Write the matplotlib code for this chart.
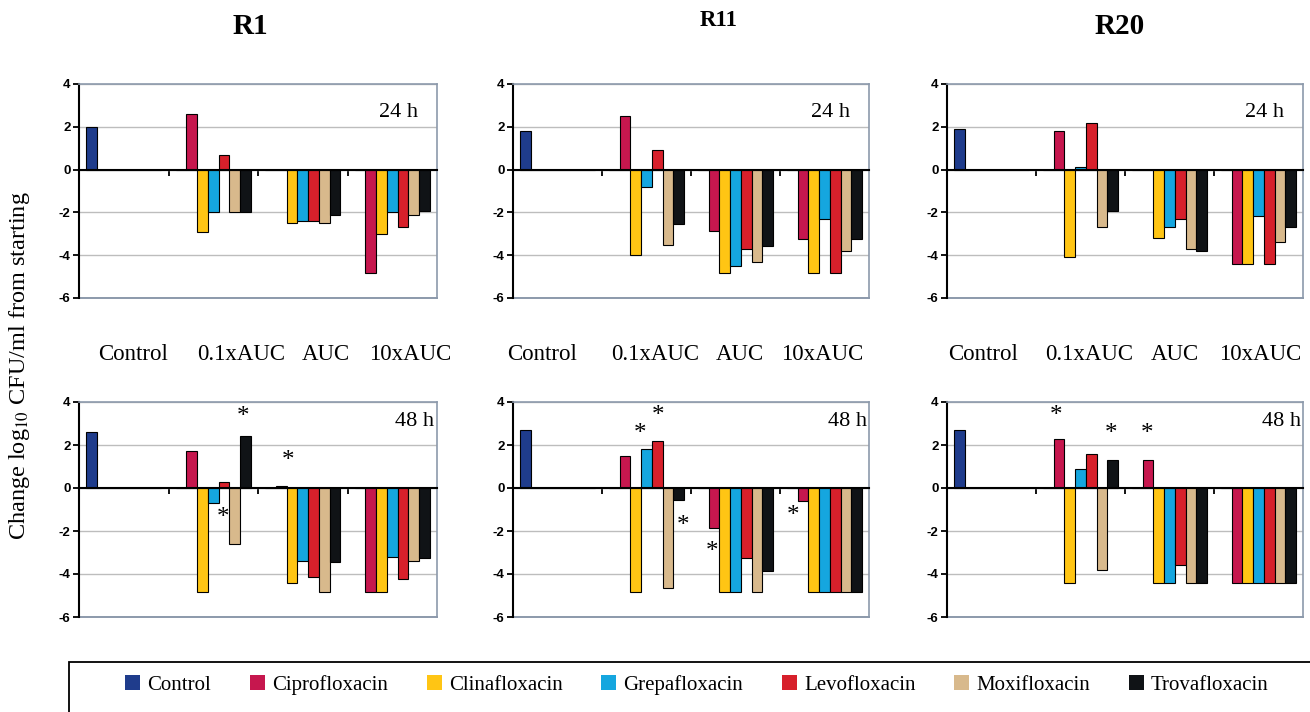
import numpy as np
import matplotlib
matplotlib.use("Agg")
import matplotlib.pyplot as plt
from matplotlib.patches import Patch, Rectangle

plt.rcParams["axes.unicode_minus"] = False

categories = ["Control", "0.1xAUC", "AUC", "10xAUC"]
series = ["Control", "Ciprofloxacin", "Clinafloxacin", "Grepafloxacin",
          "Levofloxacin", "Moxifloxacin", "Trovafloxacin"]
colors = ["#1F3C8C", "#C6174E", "#FFC514", "#15A6DF", "#D7202B", "#D8B98C", "#101316"]

strains = ["R1", "R11", "R20"]
times = ["24 h", "48 h"]

# control value, then drug rows (Cipro..Trova) x (0.1xAUC, AUC, 10xAUC)
r1_24h_control = 2.0
r1_24h = [[2.6, 0.0, -4.85], [-2.9, -2.5, -3.0], [-2.0, -2.4, -2.0],
          [0.7, -2.4, -2.7], [-2.0, -2.5, -2.1], [-2.0, -2.1, -1.95]]
r1_48h_control = 2.6
r1_48h = [[1.7, 0.1, -4.85], [-4.85, -4.4, -4.85], [-0.7, -3.4, -3.2],
          [0.3, -4.15, -4.25], [-2.6, -4.85, -3.4], [2.4, -3.45, -3.25]]
r11_24h_control = 1.8
r11_24h = [[2.5, -2.85, -3.25], [-4.0, -4.85, -4.85], [-0.8, -4.5, -2.3],
           [0.9, -3.7, -4.85], [-3.5, -4.3, -3.8], [-2.55, -3.55, -3.25]]
r11_48h_control = 2.7
r11_48h = [[1.5, -1.85, -0.6], [-4.85, -4.85, -4.85], [1.8, -4.85, -4.85],
           [2.2, -3.25, -4.85], [-4.65, -4.85, -4.85], [-0.55, -3.85, -4.85]]
r20_24h_control = 1.9
r20_24h = [[1.8, 0.0, -4.4], [-4.1, -3.2, -4.4], [0.12, -2.7, -2.15],
           [2.2, -2.3, -4.4], [-2.7, -3.7, -3.4], [-1.95, -3.8, -2.7]]
r20_48h_control = 2.7
r20_48h = [[2.3, 1.3, -4.4], [-4.4, -4.4, -4.4], [0.9, -4.4, -4.4],
           [1.6, -3.6, -4.4], [-3.8, -4.4, -4.4], [1.3, -4.4, -4.4]]

# significance marks (x in category units, y in log10 CFU/ml)
r1_48h_stars_x = [1.33, 1.11, 1.84]
r1_48h_stars_y = [3.3, -1.4, 1.25]
r11_48h_stars_x = [0.93, 1.13, 1.41, 1.74, 2.65]
r11_48h_stars_y = [2.53, 3.36, -1.75, -3.0, -1.3]
r20_48h_stars_x = [0.72, 1.34, 1.75]
r20_48h_stars_y = [3.36, 2.53, 2.53]

panels = {
    (0, 0): (r1_24h_control, r1_24h, [], []),
    (1, 0): (r1_48h_control, r1_48h, r1_48h_stars_x, r1_48h_stars_y),
    (0, 1): (r11_24h_control, r11_24h, [], []),
    (1, 1): (r11_48h_control, r11_48h, r11_48h_stars_x, r11_48h_stars_y),
    (0, 2): (r20_24h_control, r20_24h, [], []),
    (1, 2): (r20_48h_control, r20_48h, r20_48h_stars_x, r20_48h_stars_y),
}

W, H = 1310, 712
fig = plt.figure(figsize=(W / 100, H / 100), dpi=100)

serif = "Liberation Serif"
sans = "Liberation Sans"
border = "#8C99AB"
bw = 0.12

col_left = [79, 513, 947]
col_w = [358, 356, 356]
row_top = [84, 402]
row_h = [214, 215]
title_x = [250, 719, 1120]
title_size = [21, 16.5, 21]
title_y = [27, 21, 27]
label_fx = [[0.151, 0.453, 0.69, 0.925],
            [0.081, 0.399, 0.638, 0.868],
            [0.10, 0.40, 0.64, 0.88]]
time_fx = [0.947, 0.993]
time_fy = [0.865, 0.907]

x = np.arange(len(categories))
for (r, c), (ctrl, rows, sx, sy) in panels.items():
    ax = fig.add_axes([col_left[c] / W, 1 - (row_top[r] + row_h[r]) / H,
                       col_w[c] / W, row_h[r] / H])
    vals = [[ctrl, 0, 0, 0]] + [[0] + list(row) for row in rows]
    for i, v in enumerate(vals):
        ax.bar(x + (i - 3) * bw, v, bw, color=colors[i], edgecolor="black",
               linewidth=0.8, zorder=3)
    ax.set_xlim(-0.5, 3.5)
    ax.set_ylim(-6, 4)
    ax.set_yticks(np.arange(-6, 5, 2))
    ax.set_yticklabels([str(t) for t in range(-6, 5, 2)],
                       fontfamily=sans, fontweight="bold", fontsize=9.5)
    ax.yaxis.grid(True, color="#BDBDBD", linewidth=1.0)
    ax.set_axisbelow(True)
    ax.set_xticks([0.5, 1.5, 2.5])
    ax.tick_params(axis="x", direction="out", length=4, width=1.3,
                   labelbottom=False)
    ax.tick_params(axis="y", direction="out", length=4, width=1.3, pad=2)
    ax.spines["bottom"].set_position(("data", 0))
    ax.spines["bottom"].set_linewidth(1.5)
    ax.spines["bottom"].set_zorder(4)
    ax.spines["left"].set_linewidth(1.5)
    for s in ("top", "right"):
        ax.spines[s].set_color(border)
        ax.spines[s].set_linewidth(1.2)
    ax.axhline(-6, color=border, linewidth=1.4, clip_on=False, zorder=2)

    ax.text(time_fx[r], time_fy[r], times[r], transform=ax.transAxes,
            ha="right", va="center", fontfamily=serif, fontsize=16)
    for xs, ys in zip(sx, sy):
        ax.text(xs, ys, "*", ha="center", va="center", fontfamily=serif,
                fontsize=18, zorder=5)
    if r == 0:
        for fx, lab in zip(label_fx[c], categories):
            ax.text(fx, -0.266, lab, transform=ax.transAxes, ha="center",
                    va="center", fontfamily=serif, fontsize=16.5)
        fig.text(title_x[c] / W, 1 - title_y[c] / H, strains[c], ha="center",
                 va="center", fontfamily=serif, fontweight="bold",
                 fontsize=title_size[c])

fig.text(20 / W, 1 - 366 / H, r"Change log$_{10}$ CFU/ml from starting",
         rotation=90, ha="center", va="center", fontfamily=serif, fontsize=17.5,
         math_fontfamily="stix")

fig.patches.append(Rectangle((69 / W, -0.02), 1.0, 0.02 + (712 - 662) / H,
                             transform=fig.transFigure, fill=False,
                             edgecolor="black", linewidth=1.3))
handles = [Patch(facecolor=col, edgecolor="none") for col in colors]
fig.legend(handles, series, ncol=7, loc="center",
           bbox_to_anchor=(0.532, 1 - 685 / H), frameon=False,
           prop={"family": serif, "size": 15}, handlelength=0.72,
           handleheight=0.72, handletextpad=0.35, columnspacing=1.85)

fig.savefig("out.png", dpi=100)
